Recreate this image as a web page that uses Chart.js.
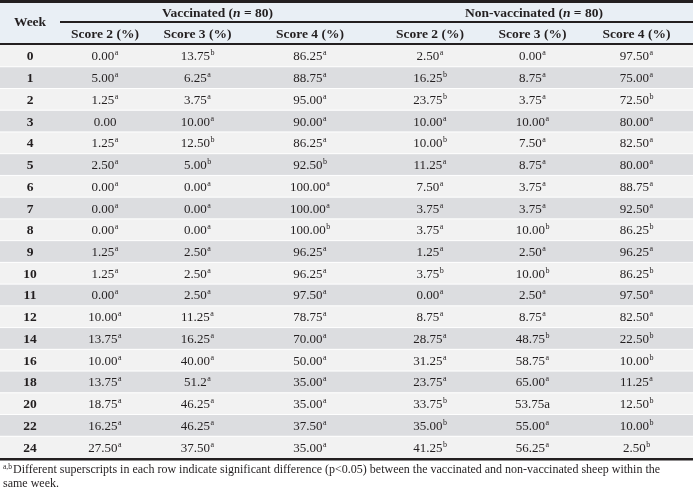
<!DOCTYPE html>
<html><head><meta charset="utf-8">
<script src="https://cdn.jsdelivr.net/npm/chart.js@4.4.0/dist/chart.umd.min.js"></script>
<style>html,body{margin:0;padding:0;background:#fff}#wrap{width:693px;height:489px}</style>
</head><body><div id="wrap"><canvas id="c" width="693" height="489"></canvas></div>
<script>
// ---- data ----
const weeks = ['0','1','2','3','4','5','6','7','8','9','10','11','12','14','16','18','20','22','24'];
const vac2 = ['0.00','5.00','1.25','0.00','1.25','2.50','0.00','0.00','0.00','1.25','1.25','0.00','10.00','13.75','10.00','13.75','18.75','16.25','27.50'];
const vac2Sig = ['a','a','a','','a','a','a','a','a','a','a','a','a','a','a','a','a','a','a'];
const vac3 = ['13.75','6.25','3.75','10.00','12.50','5.00','0.00','0.00','0.00','2.50','2.50','2.50','11.25','16.25','40.00','51.2','46.25','46.25','37.50'];
const vac3Sig = ['b','a','a','a','b','b','a','a','a','a','a','a','a','a','a','a','a','a','a'];
const vac4 = ['86.25','88.75','95.00','90.00','86.25','92.50','100.00','100.00','100.00','96.25','96.25','97.50','78.75','70.00','50.00','35.00','35.00','37.50','35.00'];
const vac4Sig = ['a','a','a','a','a','b','a','a','b','a','a','a','a','a','a','a','a','a','a'];
const non2 = ['2.50','16.25','23.75','10.00','10.00','11.25','7.50','3.75','3.75','1.25','3.75','0.00','8.75','28.75','31.25','23.75','33.75','35.00','41.25'];
const non2Sig = ['a','b','b','a','b','a','a','a','a','a','b','a','a','a','a','a','b','b','b'];
const non3 = ['0.00','8.75','3.75','10.00','7.50','8.75','3.75','3.75','10.00','2.50','10.00','2.50','8.75','48.75','58.75','65.00','53.75a','55.00','56.25'];
const non3Sig = ['a','a','a','a','a','a','a','a','b','a','b','a','a','b','a','a','','a','a'];
const non4 = ['97.50','75.00','72.50','80.00','82.50','80.00','88.75','92.50','86.25','96.25','86.25','97.50','82.50','22.50','10.00','11.25','12.50','10.00','2.50'];
const non4Sig = ['a','a','b','a','a','a','a','a','b','a','b','a','a','b','b','a','b','b','b'];
const groupLabels = ['Vaccinated', 'Non-vaccinated'];
const groupN = [80, 80];
const scoreLabels = ['Score 2 (%)','Score 3 (%)','Score 4 (%)'];
const footnote1 = 'Different superscripts in each row indicate significant difference (p<0.05) between the vaccinated and non-vaccinated sheep within the';
const footnote2 = 'same week.';

// ---- layout (column widths in px units of the x axis) ----
const colWidths = [60, 90, 95, 130, 110, 95, 113];
const colCenters = []; { let acc = 0; for (const w of colWidths) { colCenters.push(acc + w/2); acc += w; } }
const totalW = colWidths.reduce((a,b)=>a+b,0);

const columns = [
  {vals: weeks, sig: null, bold: true},
  {vals: vac2, sig: vac2Sig}, {vals: vac3, sig: vac3Sig}, {vals: vac4, sig: vac4Sig},
  {vals: non2, sig: non2Sig}, {vals: non3, sig: non3Sig}, {vals: non4, sig: non4Sig}
];

const INK = '#231f20';
const SERIF = '"Liberation Serif", "Times New Roman", serif';

function drawSup(ctx, x, y, main, sup, font, supFont) {
  ctx.font = font;
  const w1 = ctx.measureText(main).width;
  let w2 = 0;
  if (sup) { ctx.font = supFont; w2 = ctx.measureText(sup).width + 0.5; }
  const x0 = x - (w1 + w2) / 2;
  ctx.textAlign = 'left'; ctx.textBaseline = 'alphabetic';
  ctx.font = font; ctx.fillText(main, x0, y);
  if (sup) { ctx.font = supFont; ctx.fillText(sup, x0 + w1 + 0.5, y - 5); }
}

const tablePlugin = {
  id: 'tableDraw',
  beforeDatasetsDraw(chart) {
    const {ctx, chartArea: ca, scales} = chart;
    const ys = scales.y;
    const rowH = (ca.bottom - ca.top) / weeks.length;
    ctx.save();
    // header background
    ctx.fillStyle = '#e9eff5';
    ctx.fillRect(0, 0, chart.width, ca.top);
    // rows
    weeks.forEach((w, i) => {
      const yc = ys.getPixelForValue(i);
      ctx.fillStyle = i % 2 === 0 ? '#f2f2f2' : '#dcdde0';
      ctx.fillRect(0, yc - rowH/2, chart.width, rowH);
      ctx.fillStyle = '#ffffff';
      if (i > 0) ctx.fillRect(0, yc - rowH/2 - 0.5, chart.width, 1);
    });
    // rules
    ctx.fillStyle = INK;
    ctx.fillRect(0, 0, chart.width, 3);
    ctx.fillRect(colWidths[0], 21, chart.width - colWidths[0], 2);
    ctx.fillRect(0, ca.top - 2, chart.width, 2);
    ctx.fillRect(0, ca.bottom, chart.width, 2.5);
    ctx.restore();
  },
  afterDraw(chart) {
    const {ctx, chartArea: ca, scales} = chart;
    const xs = scales.x;
    ctx.save();
    ctx.fillStyle = INK;
    // header
    const hf = 'bold 13.5px ' + SERIF;
    ctx.font = hf; ctx.textAlign = 'center'; ctx.textBaseline = 'middle';
    ctx.fillText('Week', xs.getPixelForValue(colCenters[0]), 23);
    for (let g = 0; g < 2; g++) {
      const c0 = 1 + g*3;
      let left = 0; for (let k = 0; k < c0; k++) left += colWidths[k];
      const right = left + colWidths[c0] + colWidths[c0+1] + colWidths[c0+2];
      const cx = (xs.getPixelForValue(left) + xs.getPixelForValue(right)) / 2;
      const parts = [[groupLabels[g] + ' (', hf], ['n', 'italic bold 13.5px ' + SERIF], [' = ' + groupN[g] + ')', hf]];
      let tw = 0; parts.forEach(p => { ctx.font = p[1]; tw += ctx.measureText(p[0]).width; });
      let x = cx - tw/2; ctx.textAlign = 'left'; ctx.textBaseline = 'alphabetic';
      parts.forEach(p => { ctx.font = p[1]; ctx.fillText(p[0], x, 16.5); x += ctx.measureText(p[0]).width; });
      for (let s = 0; s < 3; s++) {
        ctx.font = hf; ctx.textAlign = 'center';
        ctx.fillText(scoreLabels[s], xs.getPixelForValue(colCenters[c0+s]), 37.5);
      }
    }
    // cells
    chart.data.datasets.forEach((ds, d) => {
      const meta = chart.getDatasetMeta(d);
      const col = columns[d];
      meta.data.forEach((el, i) => {
        const font = (col.bold ? 'bold 13.5px ' : '13px ') + SERIF;
        drawSup(ctx, el.x, el.y + 4.5, col.vals[i], col.sig ? col.sig[i] : '', font, '8px ' + SERIF);
      });
    });
    // footnote
    ctx.textAlign = 'left'; ctx.textBaseline = 'alphabetic';
    ctx.font = '7.5px ' + SERIF; ctx.fillText('a,b', 3, ca.bottom + 11);
    ctx.font = '12px ' + SERIF;
    ctx.fillText(footnote1, 13, ca.bottom + 15);
    ctx.fillText(footnote2, 3, ca.bottom + 29);
    ctx.restore();
  }
};

const datasets = columns.map((col, d) => ({
  label: 'col' + d,
  data: weeks.map((w, i) => ({x: colCenters[d], y: w})),
  pointRadius: 0, showLine: false
}));

new Chart(document.getElementById('c'), {
  type: 'scatter',
  data: {datasets},
  options: {
    responsive: false, animation: false, events: [],
    layout: {padding: {top: 45, bottom: 31, left: 0, right: 0}},
    plugins: {legend: {display: false}, tooltip: {enabled: false}},
    scales: {
      x: {type: 'linear', min: 0, max: totalW, display: false},
      y: {type: 'category', labels: weeks, offset: true, display: false}
    }
  },
  plugins: [tablePlugin]
});
</script></body></html>
